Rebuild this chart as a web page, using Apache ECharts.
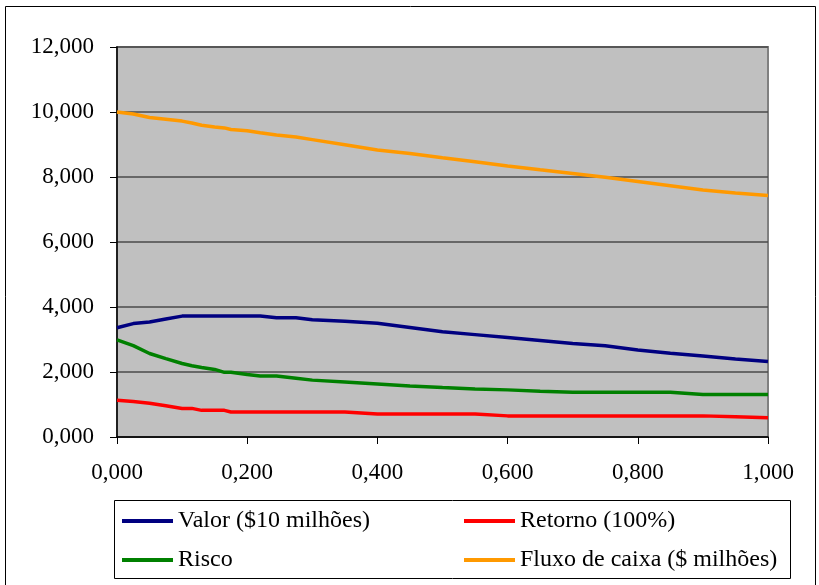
<!DOCTYPE html>
<html>
<head>
<meta charset="utf-8">
<script src="https://cdn.jsdelivr.net/npm/echarts@6/dist/echarts.min.js"></script>
<style>
  html, body { margin: 0; padding: 0; background: #fff; }
  #chart { width: 819px; height: 585px; }
</style>
</head>
<body>
<div id="chart"></div>
<script>
// Sample positions (share of the horizontal axis, 0..1)
var xVals = [0, 0.025, 0.05, 0.075, 0.1, 0.115, 0.13, 0.15, 0.165, 0.175, 0.2, 0.22, 0.245, 0.275,
             0.3, 0.35, 0.4, 0.45, 0.5, 0.55, 0.6, 0.65, 0.7, 0.75, 0.8, 0.85, 0.9, 0.95, 1.0];

var valor = [3.36, 3.49, 3.54, 3.63, 3.72, 3.72, 3.72, 3.72, 3.72, 3.72, 3.72, 3.72, 3.67, 3.67,
             3.61, 3.56, 3.50, 3.37, 3.24, 3.15, 3.06, 2.97, 2.88, 2.81, 2.68, 2.58, 2.49, 2.40, 2.32];

var retorno = [1.13, 1.09, 1.04, 0.96, 0.88, 0.88, 0.82, 0.82, 0.82, 0.77, 0.77, 0.77, 0.77, 0.77,
               0.77, 0.77, 0.71, 0.71, 0.71, 0.71, 0.65, 0.65, 0.65, 0.65, 0.65, 0.65, 0.65, 0.62, 0.59];

var risco = [2.99, 2.81, 2.57, 2.41, 2.26, 2.19, 2.14, 2.08, 1.99, 1.99, 1.92, 1.88, 1.88, 1.81,
             1.75, 1.69, 1.63, 1.57, 1.52, 1.48, 1.45, 1.41, 1.38, 1.38, 1.38, 1.38, 1.31, 1.31, 1.31];

var fluxo = [10.0, 9.94, 9.83, 9.78, 9.72, 9.66, 9.59, 9.54, 9.51, 9.46, 9.42, 9.36, 9.29, 9.23,
             9.15, 8.99, 8.83, 8.72, 8.59, 8.47, 8.34, 8.22, 8.11, 7.99, 7.86, 7.73, 7.60, 7.51, 7.43];

var seriesNames = ['Valor ($10 milhões)', 'Retorno (100%)', 'Risco', 'Fluxo de caixa ($ milhões)'];
var seriesColors = ['#000080', '#FF0000', '#008000', '#FF9900'];
var seriesValues = [valor, retorno, risco, fluxo];

var FONT = "'Liberation Serif', 'Times New Roman', serif";

function pairs(ys) {
  return xVals.map(function (x, i) { return [x, ys[i]]; });
}
function fmt3(v) {
  return v.toFixed(3).replace('.', ',');
}

var chart = echarts.init(document.getElementById('chart'), null, { renderer: 'canvas' });

// One legend per entry so the two columns line up
var legendPos = [[122, 509], [464, 509], [122, 548], [464, 548]];
var legends = seriesNames.map(function (name, i) {
  return {
    data: [name],
    left: legendPos[i][0],
    top: legendPos[i][1],
    icon: 'rect',
    itemWidth: 51,
    itemHeight: 4,
    selectedMode: false,
    padding: 0,
    textStyle: { fontFamily: FONT, fontSize: 24, color: '#000', padding: [0, 0, 0, 0] }
  };
});

chart.setOption({
  backgroundColor: '#ffffff',
  animation: false,
  grid: {
    left: 117, right: 51, top: 47, bottom: 148,
    show: true,
    backgroundColor: '#C0C0C0',
    borderColor: '#808080',
    borderWidth: 2
  },
  legend: legends,
  graphic: [
    {
      type: 'rect',
      shape: { x: 5.5, y: 6.5, width: 810, height: 600 },
      style: { fill: 'none', stroke: '#000', lineWidth: 1 },
      z: -1, silent: true
    },
    {
      type: 'rect',
      shape: { x: 114.5, y: 500.5, width: 676, height: 78 },
      style: { fill: 'none', stroke: '#000', lineWidth: 1 },
      silent: true
    }
  ],
  xAxis: {
    type: 'value',
    min: 0, max: 1, interval: 0.2,
    axisLine: { show: true, onZero: false, lineStyle: { color: '#000', width: 1.5 } },
    axisTick: { show: true, inside: false, length: 7, lineStyle: { color: '#000', width: 1 } },
    splitLine: { show: false },
    axisLabel: {
      margin: 24,
      fontFamily: FONT, fontSize: 23, color: '#000',
      formatter: function (v) { return fmt3(v); }
    }
  },
  yAxis: {
    type: 'value',
    min: 0, max: 12, interval: 2,
    axisLine: { show: true, lineStyle: { color: '#000', width: 1.5 } },
    axisTick: { show: true, inside: false, length: 7, lineStyle: { color: '#000', width: 1 } },
    splitLine: { show: true, lineStyle: { color: '#4a4a4a', width: 1.5 } },
    axisLabel: {
      margin: 23,
      fontFamily: FONT, fontSize: 23, color: '#000',
      formatter: function (v) { return fmt3(v); }
    }
  },
  series: seriesNames.map(function (name, i) {
    return {
      name: name,
      type: 'line',
      data: pairs(seriesValues[i]),
      symbol: 'none',
      smooth: false,
      color: seriesColors[i],
      lineStyle: { color: seriesColors[i], width: 3.5 }
    };
  })
});
</script>
</body>
</html>
